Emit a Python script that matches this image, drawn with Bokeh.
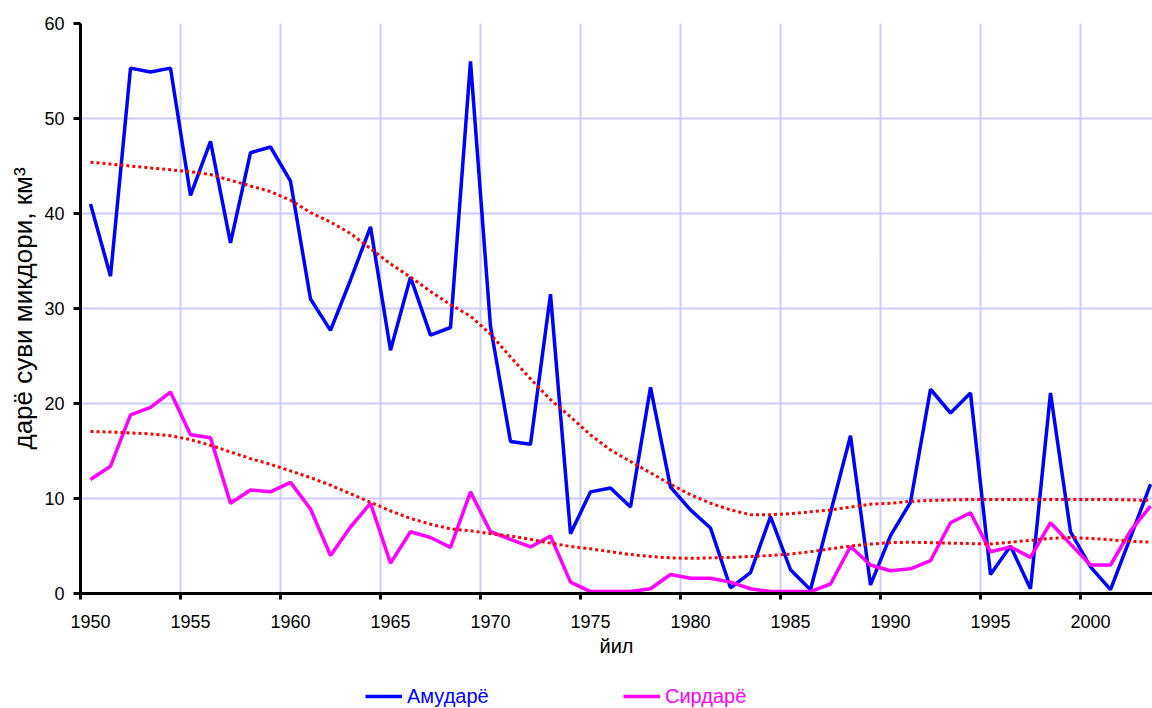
from bokeh.plotting import figure
from bokeh.models import Range1d, FixedTicker, Legend, LegendItem
from bokeh.layouts import column
from bokeh.embed import file_html
from bokeh.resources import INLINE

years = list(range(1950, 2004))

amu = [41.0, 33.4, 55.3, 54.9, 55.3, 41.9, 47.6, 36.9, 46.4, 47.0,
       43.4, 31.0, 27.7, 33.0, 38.6, 25.6, 33.3, 27.2, 28.0, 56.0,
       28.1, 16.0, 15.7, 31.5, 6.3, 10.7, 11.1, 9.1, 21.7, 11.2,
       8.8, 6.9, 0.6, 2.2, 8.1, 2.5, 0.4, 8.5, 16.6, 0.9,
       6.1, 9.6, 21.5, 19.0, 21.1, 2.0, 5.0, 0.5, 21.1, 6.5,
       2.8, 0.4, 5.9, 11.5]

syr = [12.0, 13.4, 18.8, 19.6, 21.2, 16.7, 16.4, 9.5, 10.9, 10.7,
       11.7, 8.9, 4.0, 7.0, 9.5, 3.2, 6.5, 5.9, 4.85, 10.7,
       6.5, 5.7, 4.9, 6.05, 1.2, 0.2, 0.2, 0.2, 0.5, 2.0,
       1.6, 1.6, 1.2, 0.5, 0.2, 0.2, 0.2, 1.0, 4.95, 3.0,
       2.4, 2.6, 3.45, 7.45, 8.5, 4.4, 4.9, 3.8, 7.45, 5.2,
       3.0, 3.0, 6.6, 9.2]

# trend lines
amu_trend = [45.4, 45.2, 45.0, 44.8, 44.6, 44.4, 44.1, 43.5, 42.9, 42.3,
             41.4, 40.1, 39.1, 37.9, 36.3, 34.7, 33.3, 31.8, 30.4, 29.2,
             27.3, 24.9, 22.6, 20.4, 18.6, 16.7, 15.1, 13.9, 12.7, 11.5,
             10.4, 9.5, 8.8, 8.3, 8.3, 8.4, 8.6, 8.8, 9.1, 9.4,
             9.5, 9.7, 9.8, 9.85, 9.9, 9.9, 9.9, 9.9, 9.9, 9.9,
             9.9, 9.9, 9.85, 9.8]

syr_trend = [17.05, 17.0, 16.9, 16.8, 16.6, 16.2, 15.6, 14.9, 14.2, 13.6,
             12.9, 12.2, 11.4, 10.5, 9.6, 8.7, 7.9, 7.3, 6.8, 6.6,
             6.3, 6.05, 5.7, 5.3, 4.95, 4.7, 4.4, 4.1, 3.9, 3.75,
             3.7, 3.75, 3.8, 3.9, 4.0, 4.15, 4.4, 4.7, 5.0, 5.2,
             5.35, 5.4, 5.35, 5.3, 5.25, 5.2, 5.4, 5.6, 5.8, 5.9,
             5.8, 5.65, 5.5, 5.4]

x_labels = [1950, 1955, 1960, 1965, 1970, 1975, 1980, 1985, 1990, 1995, 2000]
y_ticks = [0, 10, 20, 30, 40, 50, 60]
series_names = ["Амударё", "Сирдарё"]
series_colors = ["#0000FF", "#FF00FF"]
y_title = "дарё суви микдори, км³"

FONT = "Liberation Sans"

p = figure(width=1152, height=670, output_backend="svg", toolbar_location=None,
           x_range=Range1d(1949.5, 2003.1), y_range=Range1d(0, 60),
           min_border_left=80, min_border_right=0, min_border_top=23,
           min_border_bottom=77)
p.outline_line_color = None
p.background_fill_color = "white"

# x axis: labels at the categories, tick marks between them
p.xaxis.ticker = FixedTicker(ticks=x_labels, minor_ticks=[v - 0.5 for v in x_labels])
p.xaxis.major_tick_line_color = None
p.xaxis.minor_tick_line_color = "black"
p.xaxis.minor_tick_line_width = 3
p.xaxis.minor_tick_out = 6
p.xaxis.minor_tick_in = 0
p.xaxis.axis_line_width = 3
p.xaxis.axis_line_color = "black"
p.xaxis.major_label_text_font = FONT
p.xaxis.major_label_text_font_size = "18px"
p.xaxis.major_label_text_color = "black"
p.xaxis.major_label_standoff = 15
p.xaxis.axis_label = "йил"
p.xaxis.axis_label_text_font = FONT
p.xaxis.axis_label_text_font_size = "20px"
p.xaxis.axis_label_text_font_style = "normal"
p.xaxis.axis_label_text_color = "black"
p.xaxis.axis_label_standoff = 4

p.yaxis.ticker = FixedTicker(ticks=y_ticks)
p.yaxis.minor_tick_line_color = None
p.yaxis.major_tick_line_width = 3
p.yaxis.major_tick_out = 7
p.yaxis.major_tick_in = 0
p.yaxis.axis_line_width = 3
p.yaxis.axis_line_color = "black"
p.yaxis.major_label_text_font = FONT
p.yaxis.major_label_text_font_size = "18px"
p.yaxis.major_label_text_color = "black"
p.yaxis.major_label_standoff = 9
p.yaxis.axis_label = y_title
p.yaxis.axis_label_text_font = FONT
p.yaxis.axis_label_text_font_size = "26px"
p.yaxis.axis_label_text_font_style = "normal"
p.yaxis.axis_label_text_color = "black"
p.yaxis.axis_label_standoff = 3

p.xgrid.grid_line_color = None
p.xgrid.minor_grid_line_color = "#CCCCFF"
p.xgrid.minor_grid_line_width = 2
p.ygrid.grid_line_color = "#CCCCFF"
p.ygrid.grid_line_width = 2

p.line(years, amu, line_color=series_colors[0], line_width=3.5)
p.line(years, syr, line_color=series_colors[1], line_width=3.5)
p.line(years, amu_trend, line_color="#FF0000", line_width=3, line_dash="3 3")
p.line(years, syr_trend, line_color="#FF0000", line_width=3, line_dash="3 3")

# legend strip below the chart (its series lines fall outside its empty frame)
lg = figure(width=1152, height=38, output_backend="svg", toolbar_location=None,
            x_range=Range1d(0, 1), y_range=Range1d(0, 1),
            x_axis_type=None, y_axis_type=None,
            min_border_left=0, min_border_right=0, min_border_top=0,
            min_border_bottom=0)
lg.outline_line_color = None
legend_x = [285, 543]
for name, col, lx, vals in zip(series_names, series_colors, legend_x, [amu, syr]):
    r = lg.line(years, vals, line_color=col, line_width=3.5)
    leg = Legend(items=[LegendItem(label=name, renderers=[r])],
                 location=(lx, 0), orientation="horizontal",
                 label_text_font=FONT, label_text_font_size="20px",
                 label_text_color=col, glyph_width=37, glyph_height=24,
                 label_standoff=5, label_height=24,
                 padding=0, margin=0, border_line_color=None,
                 background_fill_alpha=0)
    lg.add_layout(leg)

layout = column(p, lg, spacing=0)
open("out.html", "w").write(file_html(layout, INLINE))
